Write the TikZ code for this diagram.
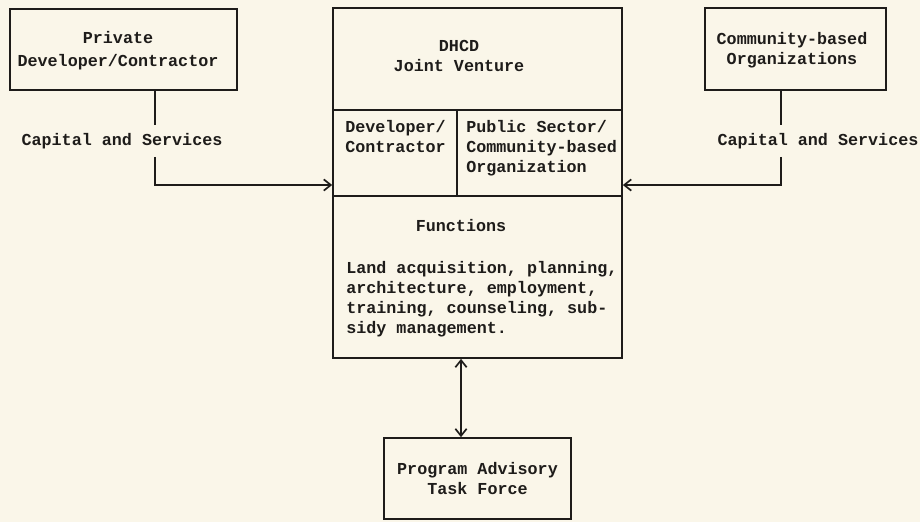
\documentclass[tikz,border=0pt]{standalone}
\usepackage{fontspec}
\setmonofont{Liberation Mono}
\usetikzlibrary{positioning,arrows.meta}
\definecolor{paper}{RGB}{250,246,233}
\definecolor{ink}{RGB}{30,28,26}
\tikzset{
  box/.style={draw=ink, line width=1.2pt, fill=paper, align=center, inner sep=0pt},
  typed/.style={text=ink, font=\ttfamily\bfseries\fontsize{11.9}{14.2}\selectfont},
  link/.style={draw=ink, line width=1.2pt},
  flow/.style={link, -{Straight Barb[length=5pt,width=8pt]}},
}
\begin{document}
\begin{tikzpicture}[x=0.025cm, y=-0.025cm]
\fill[paper] (0,0) rectangle (920,522);
\useasboundingbox (0,0) rectangle (920,522);

% outside partners
\node[box, minimum width=5.675cm, minimum height=2.025cm] (pdev) at (123.5,49.5) {};
\node[typed, align=center] (pdevtxt) at (118,51) {Private\\[2pt]Developer/Contractor};
\node[box, minimum width=4.525cm, minimum height=2.05cm] (cbo) at (795.5,49) {};
\node[typed, align=center] (cbotxt) at (792,50) {Community-based\\Organizations};

% joint venture block
\node[box, minimum width=7.225cm, minimum height=2.55cm] (jv) at (477.5,59) {};
\node[typed, align=center] (jvtxt) at (459,56) {DHCD\\Joint Venture};
\node[box, minimum width=3.1cm, minimum height=2.15cm] (dev) at (395,153) {};
\node[box, minimum width=4.125cm, minimum height=2.15cm] (pub) at (539.5,153) {};
\node[box, minimum width=7.225cm, minimum height=4.05cm] (func) at (477.5,277) {};
\node[typed, anchor=north west, align=left, inner sep=0pt] (devtxt) at (345,120) {Developer/\\Contractor};
\node[typed, anchor=north west, align=left, inner sep=0pt] (pubtxt) at (466,120) {Public Sector/\\Community-based\\Organization};
\node[typed] (functitle) at (461,226) {Functions};
\node[typed, anchor=north west, align=left, inner sep=0pt] (funcbody) at (346,261) {Land acquisition, planning,\\architecture, employment,\\training, counseling, sub-\\sidy management.};

% advisory group
\node[box, typed, minimum width=4.675cm, minimum height=2.025cm] (ptf) at (477.5,478.5) {Program Advisory\\Task Force};

% connectors
\node[typed, inner ysep=5.5pt] (lcap) at (122,141) {Capital and Services};
\node[typed, inner ysep=5.5pt] (rcap) at (818,141) {Capital and Services};
\coordinate (lbend) at (155,185);
\coordinate (rbend) at (781,185);
\coordinate (advx) at (461,400);
\draw[link] (pdev.south -| lbend) -- (lcap.north -| lbend);
\draw[flow] (lcap.south -| lbend) -- (lbend) -- (lbend -| dev.west);
\draw[link] (cbo.south -| rbend) -- (rcap.north -| rbend);
\draw[flow] (rcap.south -| rbend) -- (rbend) -- (rbend -| pub.east);
\draw[link, {Straight Barb[length=5pt,width=8pt]}-{Straight Barb[length=5pt,width=8pt]}] (func.south -| advx) -- (ptf.north -| advx);
\end{tikzpicture}
\end{document}
